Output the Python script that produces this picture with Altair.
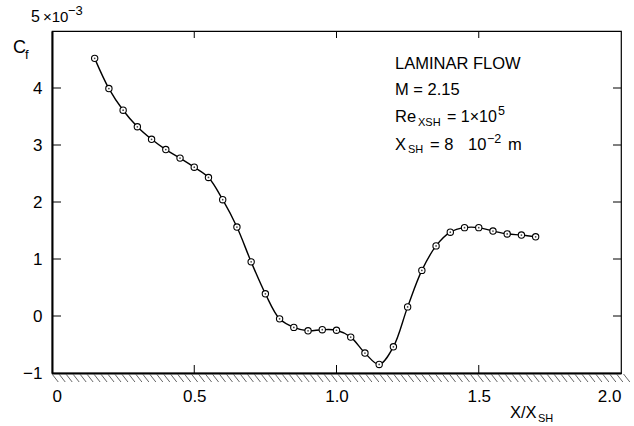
import altair as alt
import pandas as pd
import numpy as np

# ---- data (C_f in units of 1e-3) ----
x_ratio = [0.15, 0.20, 0.25, 0.30, 0.35, 0.40, 0.45, 0.50, 0.55, 0.60, 0.65,
           0.70, 0.75, 0.80, 0.85, 0.90, 0.95, 1.00, 1.05, 1.10, 1.15, 1.20,
           1.25, 1.30, 1.35, 1.40, 1.45, 1.50, 1.55, 1.60, 1.65, 1.70]
cf_vals = [4.52, 3.99, 3.61, 3.32, 3.10, 2.92, 2.77, 2.61, 2.43, 2.04, 1.56,
           0.95, 0.39, -0.05, -0.20, -0.26, -0.24, -0.25, -0.37, -0.65, -0.85, -0.54,
           0.16, 0.80, 1.23, 1.47, 1.55, 1.55, 1.49, 1.44, 1.42, 1.39]
x_tick_values = [0, 0.5, 1.0, 1.5, 2.0]
y_tick_values = [-1, 0, 1, 2, 3, 4]
x_inner_ticks = [0.5, 1.0, 1.5]
y_inner_ticks = [0, 1, 2, 3, 4]

W, H = 569, 342
FONT = "Liberation Sans"

df = pd.DataFrame({"x": x_ratio, "cf": cf_vals})

xs = alt.Scale(domain=[0, 2.0], nice=False, zero=False)
ys = alt.Scale(domain=[-1, 5], nice=False, zero=False)

base = alt.Chart(df)

line = base.mark_line(color="black", strokeWidth=1.4, interpolate="catmull-rom").encode(
    x=alt.X("x:Q", scale=xs,
            axis=alt.Axis(values=x_tick_values, ticks=False, grid=False,
                          labelExpr="datum.value == 0 ? '0' : format(datum.value, '.1f')",
                          labelFlush=True, labelPadding=15, labelFontSize=17,
                          labelFont=FONT, labelColor="black", domainColor="black",
                          domainWidth=2, title=None)),
    y=alt.Y("cf:Q", scale=ys,
            axis=alt.Axis(values=y_tick_values, ticks=False, grid=False, format="d",
                          labelPadding=10, labelFontSize=17, labelFont=FONT,
                          labelColor="black", domainColor="black", domainWidth=2,
                          title=None)),
)

pts = base.mark_point(shape="circle", size=40, filled=True, fill="white",
                      stroke="black", strokeWidth=1.1, opacity=1).encode(
    x=alt.X("x:Q", scale=xs), y=alt.Y("cf:Q", scale=ys))
dots = base.mark_point(shape="circle", size=3, filled=True, color="#444", opacity=1).encode(
    x=alt.X("x:Q", scale=xs), y=alt.Y("cf:Q", scale=ys))

# inward ticks
xt = pd.DataFrame({"t": x_inner_ticks})
yt = pd.DataFrame({"t": y_inner_ticks})
tick_style = dict(color="black", strokeWidth=1)
bottom_ticks = alt.Chart(xt).mark_rule(**tick_style).encode(
    x=alt.X("t:Q", scale=xs), y=alt.value(H), y2=alt.value(H - 8))
top_ticks = alt.Chart(xt).mark_rule(**tick_style).encode(
    x=alt.X("t:Q", scale=xs), y=alt.value(0), y2=alt.value(7))
left_ticks = alt.Chart(yt).mark_rule(**tick_style).encode(
    y=alt.Y("t:Q", scale=ys), x=alt.value(0), x2=alt.value(9))
right_ticks = alt.Chart(yt).mark_rule(**tick_style).encode(
    y=alt.Y("t:Q", scale=ys), x=alt.value(W), x2=alt.value(W - 8))

# wall hatching below the x axis
hatch = pd.DataFrame({"h": np.arange(0.0, 2.03, 0.0245)})
hatch["h2"] = hatch["h"] + 0.022
hatching = alt.Chart(hatch).mark_rule(color="#555", strokeWidth=0.9).encode(
    x=alt.X("h:Q", scale=xs), x2="h2:Q", y=alt.value(H + 1), y2=alt.value(H + 9))

def txt(s, x, y, size=16.5, align="left"):
    return alt.Chart(pd.DataFrame({"s": [s]})).mark_text(
        font=FONT, fontSize=size, align=align, baseline="alphabetic", color="black"
    ).encode(text="s:N", x=alt.value(x), y=alt.value(y))

texts = [
    # y-axis multiplier and label
    txt("5", -21, -9, 16),
    txt("\u00d710", -9, -9, 15),
    txt("\u22123", 16, -16, 13),
    txt("C", -39, 22, 18),
    txt("f", -27, 28, 13),
    # annotation block
    txt("LAMINAR FLOW", 343, 38),
    txt("M = 2.15", 343, 64),
    txt("Re", 343, 91),
    txt("XSH", 366, 95, 11),
    txt("= 1\u00d710", 395, 91, 16),
    txt("5", 446, 84, 12.5),
    txt("X", 343, 119),
    txt("SH", 356, 122, 11),
    txt("= 8", 378, 119),
    txt("10", 416, 119),
    txt("\u22122", 435, 112, 12.5),
    txt("m", 456, 119),
    # x-axis title
    txt("X/X", 458, 387),
    txt("SH", 486, 391, 11),
]

chart = alt.layer(
    hatching, line, pts, dots, bottom_ticks, top_ticks, left_ticks, right_ticks, *texts
).properties(
    width=W, height=H,
    autosize=alt.AutoSizeParams(type="none"),
    padding={"left": 52, "top": 31, "right": 13, "bottom": 53},
    background="white",
).configure_view(stroke="black", strokeWidth=1.2)

chart.save("out.html", embed_options={"renderer": "svg", "actions": False})
